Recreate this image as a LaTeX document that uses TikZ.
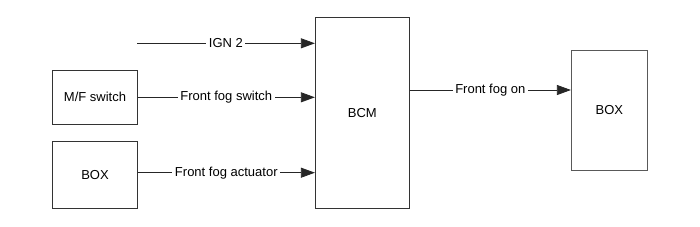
\documentclass[tikz,border=0pt]{standalone}
\usepackage{fontspec}
\setmainfont{Liberation Sans}
\usetikzlibrary{arrows.meta}
\tikzset{
 blk/.style={draw=black!80, line width=0.8pt, rectangle, inner sep=0pt},
 sig/.style={draw=black!85, line width=0.8pt, -{Triangle[length=14pt, width=10pt]}},
 lbl/.style={fill=white, inner sep=2.5pt, pos=0.5}
}
\begin{document}
\begin{tikzpicture}[x=1pt, y=-1pt, font=\fontsize{13}{15}\selectfont]
 \useasboundingbox (0,0) rectangle (700,226);
 % blocks
 \node[blk, minimum width=84.6pt, minimum height=53.4pt] (mf) at (95,97.3) {M/F switch};
 \node[blk, minimum width=84.6pt, minimum height=66.6pt] (lbox) at (95,175) {BOX};
 \node[blk, minimum width=94pt, minimum height=191.4pt] (bcm) at (362.3,113) {BCM};
 \node[blk, draw=black!65, minimum width=76pt, minimum height=120pt] (rbox) at (609.3,110) {BOX};
 % signals
 \coordinate (ign) at (137,43.3);
 \draw[sig] (ign) -- (ign -| bcm.west) node[lbl] {IGN 2};
 \draw[sig] (mf.east) -- (mf.east -| bcm.west) node[lbl] {Front fog switch};
 \draw[sig] (lbox.east |- 0,172.7) -- (bcm.west |- 0,172.7) node[lbl] {Front fog actuator};
 \draw[sig] (bcm.east |- 0,90) -- (rbox.west |- 0,90) node[lbl] {Front fog on};
\end{tikzpicture}
\end{document}
